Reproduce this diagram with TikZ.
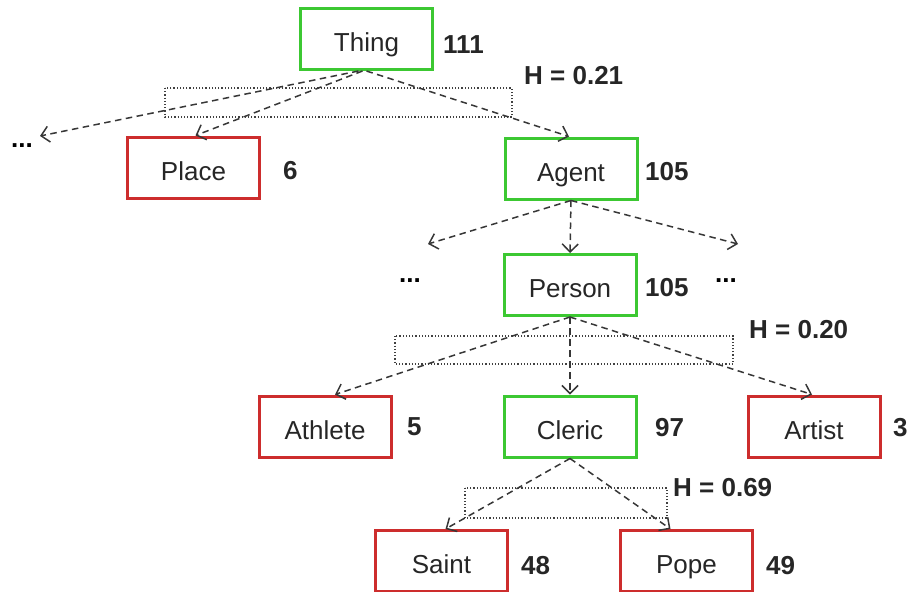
\documentclass[tikz,border=0pt]{standalone}
\usepackage{fontspec}
\setmainfont{Liberation Sans}
\usetikzlibrary{arrows.meta,calc}
\definecolor{boxgreen}{RGB}{60,200,50}
\definecolor{boxred}{RGB}{205,45,45}
\definecolor{arrowgray}{RGB}{55,55,55}
\begin{document}
\begin{tikzpicture}[x=1pt,y=-1pt,
  font=\fontsize{26}{31}\selectfont,
  box/.style={draw, line width=3pt, minimum width=132pt, minimum height=61pt, inner sep=0pt, text height=25pt, text depth=0pt, text=black!85},
  okbox/.style={box, draw=boxgreen},
  badbox/.style={box, draw=boxred},
  num/.style={anchor=west, inner sep=0pt, font=\fontsize{26}{31}\selectfont\bfseries, text=black!85},
  dots/.style={inner sep=0pt, font=\fontsize{26}{31}\selectfont\bfseries},
  link/.style={draw=arrowgray, line width=1.5pt, dash pattern=on 6.5pt off 4.5pt, -{Straight Barb[length=8pt,width=16pt]}},
  hbox/.style={draw=black!75, line width=1.1pt, dash pattern=on 1.2pt off 2pt}]
\useasboundingbox (0,0) rectangle (911,592);

% dotted groups
\draw[hbox] (165,88) rectangle (512,117);
\draw[hbox] (395,336) rectangle (733,364);
\draw[hbox] (465,488) rectangle (667,518);

% nodes
\node[okbox] (thing) at (366.5,39) {Thing};
\node[badbox] (place) at (193.5,167.5) {Place};
\node[okbox] (agent) at (571,168.5) {Agent};
\node[okbox] (person) at (570,285) {Person};
\node[badbox] (athlete) at (325,426.5) {Athlete};
\node[okbox] (cleric) at (570,426.5) {Cleric};
\node[badbox] (artist) at (814,426.5) {Artist};
\node[badbox] (saint) at (441.5,561) {Saint};
\node[badbox] (pope) at (686.5,561) {Pope};

% counts
\node[num] (nthing) at (443,45) {111};
\node[num] (nplace) at (283,171) {6};
\node[num] (nagent) at (645,172) {105};
\node[num] (nperson) at (645,288) {105};
\node[num] (nathlete) at (407,427) {5};
\node[num] (ncleric) at (655,428) {97};
\node[num] (nartist) at (893,428) {3};
\node[num] (nsaint) at (521,566) {48};
\node[num] (npope) at (766,566) {49};

% entropy labels
\node[num] (h1) at (524,76) {H = 0.21};
\node[num] (h2) at (749,330) {H = 0.20};
\node[num] (h3) at (673,488) {H = 0.69};

% ellipses
\node[dots] (d1) at (22,146) {...};
\node[dots] (d2) at (410,281) {...};
\node[dots] (d3) at (726,281) {...};
\coordinate (e1) at (40,136);
\coordinate (e2) at (428,244);
\coordinate (e3) at (738,244);

% connectors
\draw[link] ($(thing.south)+(-8,0)$) -- (e1);
\draw[link] ($(thing.south)+(-4,0)$) -- ($(place.north)+(2,0)$);
\draw[link] (thing.south) -- ($(agent.north)+(-2,0)$);
\draw[link] (agent.south) -- (e2);
\draw[link] (agent.south) -- (e3);
\draw[link] (agent.south) -- (person.north);
\draw[link] (person.south) -- ($(athlete.north)+(10,0)$);
\draw[link] (person.south) -- (cleric.north);
\draw[link] (person.south) -- ($(artist.north)+(-2,0)$);
\draw[link] (cleric.south) -- ($(saint.north)+(4,0)$);
\draw[link] (cleric.south) -- ($(pope.north)+(-16,0)$);
\end{tikzpicture}
\end{document}
